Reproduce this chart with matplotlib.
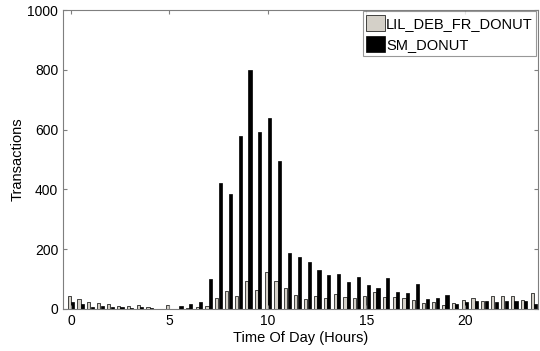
import numpy as np
import matplotlib
matplotlib.use("Agg")
import matplotlib.pyplot as plt

# --- DATA (half-hour slots) ---
hours = np.arange(0, 24, 0.5)
lil_deb_fr_donut = [45, 33, 23, 19, 16, 10, 10, 13, 5, 0,
                    12, 0, 3, 6, 10, 36, 61, 45, 93, 62,
                    123, 94, 71, 47, 33, 44, 37, 49, 41, 37,
                    42, 57, 41, 41, 36, 31, 20, 25, 14, 20,
                    31, 36, 27, 42, 43, 43, 31, 52]
sm_donut = [22, 16, 8, 10, 6, 5, 4, 7, 2, 0,
            0, 11, 18, 22, 101, 420, 384, 578, 800, 592,
            638, 495, 187, 174, 156, 129, 113, 116, 91, 106,
            79, 69, 104, 58, 52, 84, 34, 37, 47, 16,
            25, 26, 27, 22, 26, 26, 28, 18]
series_names = ["LIL_DEB_FR_DONUT", "SM_DONUT"]

plt.rcParams['font.family'] = ['Liberation Sans', 'DejaVu Sans']

fig = plt.figure(figsize=(5.4, 3.51), dpi=100)
ax = fig.add_axes([0.1167, 0.1197, 0.8793, 0.8518])

w = 0.16
ax.bar(hours - 0.09, lil_deb_fr_donut, width=w, color='#d4d0c8',
       edgecolor='black', linewidth=0.5, label=series_names[0])
ax.bar(hours + 0.09, sm_donut, width=w, color='black',
       edgecolor='black', linewidth=0.5, label=series_names[1])

ax.set_xlim(-0.4, 23.7)
ax.set_ylim(0, 1000)
ax.set_xticks([0, 5, 10, 15, 20])
ax.set_yticks([0, 200, 400, 600, 800, 1000])
ax.tick_params(direction='in', top=True, right=True, labelsize=10,
               length=3, color='#7f7f7f')
for s in ax.spines.values():
    s.set_color('#7f7f7f')
    s.set_linewidth(0.8)

ax.set_xlabel("Time Of Day (Hours)", fontsize=10.5, labelpad=2)
ax.set_ylabel("Transactions", fontsize=10.5, labelpad=2)

leg = ax.legend(loc='upper right', fontsize=10.5, frameon=True, fancybox=False,
                borderaxespad=0.1, handlelength=1.25, handleheight=1.3,
                handletextpad=0.1, borderpad=0.25, labelspacing=0.35)
leg.get_frame().set_edgecolor('#7f7f7f')
leg.get_frame().set_linewidth(0.8)

fig.savefig("out.png", dpi=100)
